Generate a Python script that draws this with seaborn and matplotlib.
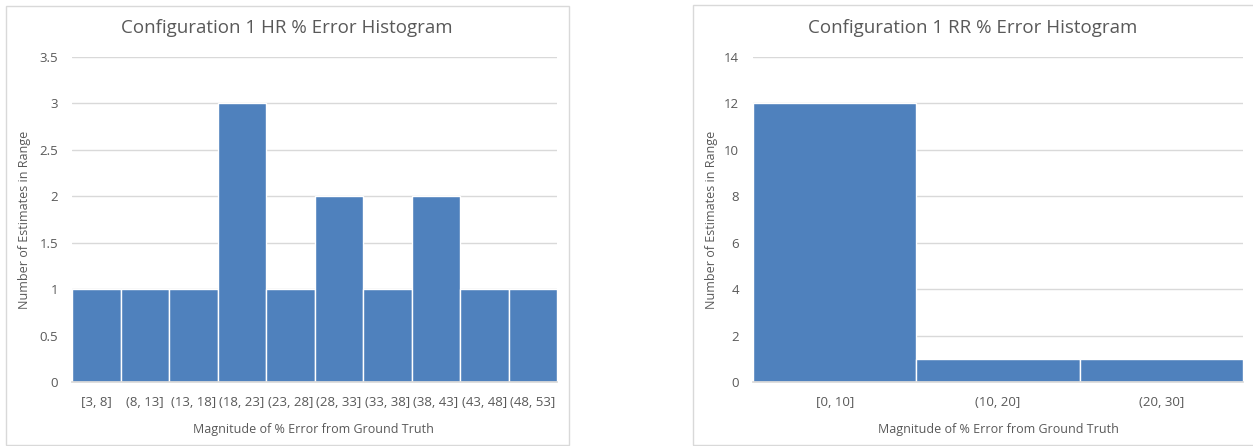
import matplotlib
matplotlib.use("Agg")
import matplotlib.pyplot as plt
import seaborn as sns
import pandas as pd
from matplotlib.patches import Rectangle

# data
hr_bins = ["[3, 8]", "(8, 13]", "(13, 18]", "(18, 23]", "(23, 28]",
           "(28, 33]", "(33, 38]", "(38, 43]", "(43, 48]", "(48, 53]"]
hr_counts = [1, 1, 1, 3, 1, 2, 1, 2, 1, 1]
rr_bins = ["[0, 10]", "(10, 20]", "(20, 30]"]
rr_counts = [12, 1, 1]

bar_color = "#4F81BD"
text_color = "#595959"
grid_color = "#D9D9D9"

sns.set_theme(style="white")
plt.rcParams["font.family"] = ["Open Sans", "DejaVu Sans"]

W, H = 1253, 446
fig = plt.figure(figsize=(W / 100, H / 100), dpi=100)

# chart frames
for x0, y0, x1, y1 in [(6, 6, 569, 445), (693, 5, 1260, 445)]:
    fig.patches.append(Rectangle((x0 / W, 1 - y1 / H), (x1 - x0) / W, (y1 - y0) / H,
                                 transform=fig.transFigure, fill=False,
                                 edgecolor=grid_color, linewidth=1.0))


def px_axes(x0, y0, x1, y1):
    return fig.add_axes([x0 / W, 1 - y1 / H, (x1 - x0) / W, (y1 - y0) / H])


def draw(ax, bins, counts, ymax, step, title, frame_cx):
    df = pd.DataFrame({"bin": bins, "count": counts})
    sns.barplot(data=df, x="bin", y="count", ax=ax, color=bar_color,
                width=1.0, saturation=1, edgecolor="white", linewidth=1.0)
    ax.set_ylim(0, ymax)
    ax.set_xlim(-0.5, len(bins) - 0.5)
    ticks = [i * step for i in range(int(round(ymax / step)) + 1)]
    ax.set_yticks(ticks)
    ax.set_yticklabels([f"{t:g}" for t in ticks])
    ax.yaxis.grid(True, color=grid_color, linewidth=1.0)
    ax.set_axisbelow(True)
    for s in ["top", "right", "left"]:
        ax.spines[s].set_visible(False)
    ax.spines["bottom"].set_color(grid_color)
    ax.tick_params(axis="both", length=0, labelsize=9.5, colors=text_color)
    ax.tick_params(axis="x", pad=10)
    ax.tick_params(axis="y", pad=10)
    ax.set_xlabel("")
    ax.set_ylabel("")
    fig.text(frame_cx / W, 1 - 28 / H, title, ha="center", va="center",
             fontsize=13.5, color=text_color)


ax1 = px_axes(72, 57, 557, 382)
draw(ax1, hr_bins, hr_counts, 3.5, 0.5, "Configuration 1 HR % Error Histogram", 287)
fig.text(313 / W, 1 - 430 / H, "Magnitude of % Error from Ground Truth",
         ha="center", va="center", fontsize=9, color=text_color)
fig.text(25 / W, 1 - 220 / H, "Number of Estimates in Range", rotation=90,
         ha="center", va="center", fontsize=9, color=text_color)

ax2 = px_axes(753, 57, 1243, 382)
draw(ax2, rr_bins, rr_counts, 14, 2, "Configuration 1 RR % Error Histogram", 973)
fig.text(998 / W, 1 - 430 / H, "Magnitude of % Error from Ground Truth",
         ha="center", va="center", fontsize=9, color=text_color)
fig.text(711 / W, 1 - 220 / H, "Number of Estimates in Range", rotation=90,
         ha="center", va="center", fontsize=9, color=text_color)

fig.savefig("out.png", dpi=100)
